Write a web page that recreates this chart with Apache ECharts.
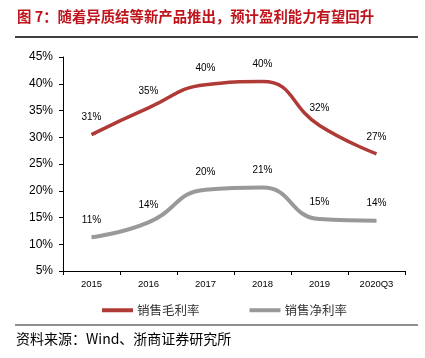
<!DOCTYPE html>
<html><head><meta charset="utf-8">
<script src="https://cdn.jsdelivr.net/npm/echarts@6/dist/echarts.min.js"></script>
<style>html,body{margin:0;padding:0;background:#fff;}#c{width:425px;height:358px;}</style>
</head><body><div id="c"></div>
<script>
const categories = ['2015','2016','2017','2018','2019','2020Q3'];
const grossMargin = [30.5, 35.5, 39.8, 40.4, 32.2, 26.9];
const grossLabels = ['31%','35%','40%','40%','32%','27%'];
const netMargin = [11.3, 14.1, 20.2, 20.6, 14.7, 14.4];
const netLabels = ['11%','14%','20%','21%','15%','14%'];
const yTicks = {min: 5, max: 45, step: 5};
const seriesNames = ['销售毛利率', '销售净利率'];
const titleText = '图 7：随着异质结等新产品推出，预计盈利能力有望回升';
const sourceText = '资料来源：Wind、浙商证券研究所';

const chart = echarts.init(document.getElementById('c'), null, {renderer: 'canvas'});
const lblFont = {fontFamily: 'Liberation Sans, Arial', fontSize: 10, color: '#000'};
chart.setOption({
  animation: false,
  backgroundColor: '#fff',
  title: {
    text: titleText, left: 12, top: 4,
    textStyle: {fontFamily: 'Noto Sans CJK SC', fontWeight: 'bold', fontSize: 14.4, color: '#C0141C'}
  },
  graphic: [
    {type: 'line', shape: {x1: 15, y1: 37, x2: 418, y2: 37}, style: {stroke: '#404040', lineWidth: 2}},
    {type: 'line', shape: {x1: 15, y1: 325, x2: 418, y2: 325}, style: {stroke: '#909090', lineWidth: 2}},
    {type: 'text', left: 16, top: 332, style: {text: sourceText, font: '14px "Noto Sans CJK SC"', fill: '#000'}}
  ],
  legend: {
    top: 299, left: 97, itemGap: 50, itemWidth: 31, itemHeight: 4,
    icon: 'rect',
    textStyle: {fontFamily: 'Noto Sans CJK SC', fontSize: 12.5, color: '#333', padding: [0,0,0,-1]},
    data: seriesNames
  },
  grid: {left: 63, right: 20, top: 57, bottom: 87, containLabel: false},
  xAxis: {
    type: 'category', data: categories, boundaryGap: true,
    axisLine: {lineStyle: {color: '#000', width: 1}},
    axisTick: {show: true, length: 4, lineStyle: {color: '#000'}},
    axisLabel: {fontFamily: 'Liberation Sans, Arial', fontSize: 9.5, color: '#000', margin: 8}
  },
  yAxis: {
    type: 'value', min: yTicks.min, max: yTicks.max, interval: yTicks.step,
    splitLine: {show: false},
    axisLine: {show: true, lineStyle: {color: '#000', width: 1}},
    axisTick: {show: true, length: 4, lineStyle: {color: '#000'}},
    axisLabel: {fontFamily: 'Liberation Sans, Arial', fontSize: 12, color: '#000', margin: 10, formatter: '{value}%'}
  },
  series: [
    {
      name: seriesNames[0], type: 'line', smooth: 0.5, symbol: 'circle', symbolSize: 0, showSymbol: true,
      data: grossMargin,
      itemStyle: {color: '#B03A36'},
      lineStyle: {color: '#B03A36', width: 3.5},
      label: {show: true, position: 'top', distance: 12, ...lblFont,
        formatter: p => grossLabels[p.dataIndex]}
    },
    {
      name: seriesNames[1], type: 'line', smooth: 0.5, symbol: 'circle', symbolSize: 0, showSymbol: true,
      data: netMargin,
      itemStyle: {color: '#999999'},
      lineStyle: {color: '#999999', width: 4},
      label: {show: true, position: 'top', distance: 12, ...lblFont,
        formatter: p => netLabels[p.dataIndex]}
    }
  ]
});
</script></body></html>
